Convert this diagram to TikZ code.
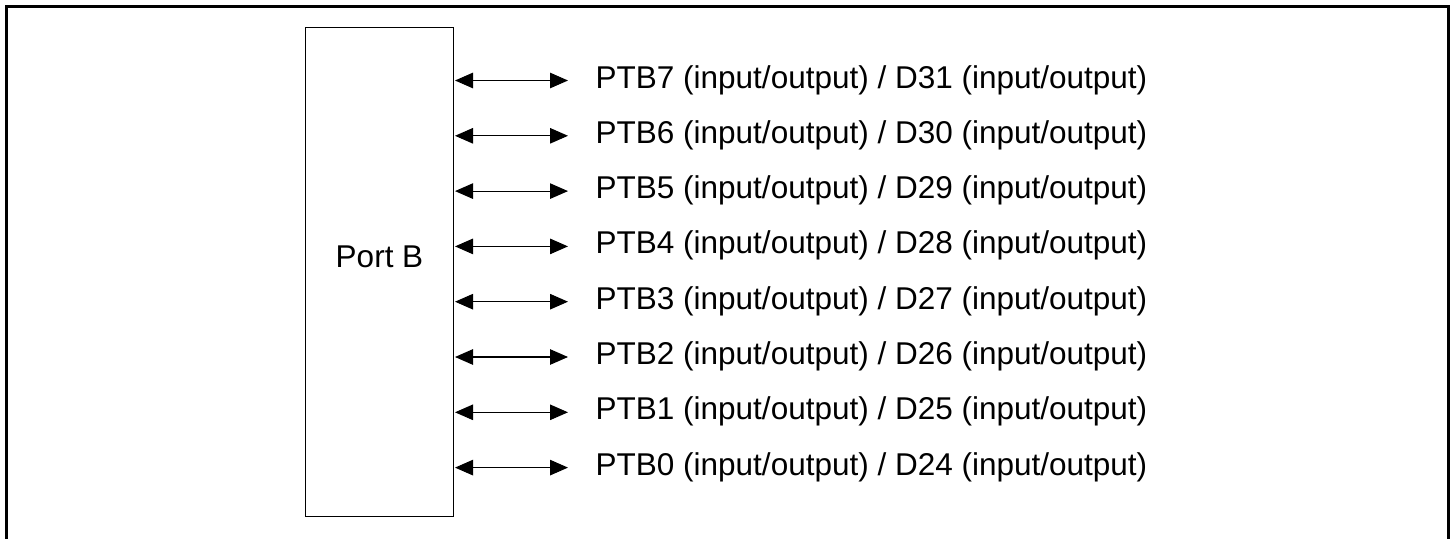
\documentclass[tikz,border=0pt]{standalone}
\usepackage{fontspec}
\setmainfont{Liberation Sans}
\usetikzlibrary{arrows.meta}
\begin{document}
\begin{tikzpicture}[x=1pt,y=-1pt,
  frame/.style={line width=3pt},
  portbox/.style={draw,line width=1.1pt,minimum width=147.6pt,minimum height=489.2pt,inner sep=0pt},
  lbl/.style={inner sep=0pt,font=\fontsize{31.5}{37}\selectfont},
  bidir/.style={line width=1.1pt,{Triangle[length=18pt,width=15.5pt]}-{Triangle[length=18pt,width=15.5pt]}}]
\useasboundingbox (0,0) rectangle (1455,538);
\draw[frame] (6.5,540) -- (6.5,6.5) -- (1448.5,6.5) -- (1448.5,540);
\node[portbox] (portB) at (379.5,272.1) {};
\node[lbl,anchor=base] (portBlbl) at (379.5,267.5) {Port B};
\foreach \i/\d [count=\k from 0] in {7/31,6/30,5/29,4/28,3/27,2/26,1/25,0/24}{
  \coordinate (l\i) at (455,{80.5+55.3*\k});
  \coordinate (r\i) at (568,{80.5+55.3*\k});
  \node[lbl,anchor=base west] (t\i) at (595.5,{80.5+55.3*\k+7.5}) {PTB\i{} (input/output) / D\d{} (input/output)};
  \draw[bidir] (l\i) -- (r\i);
}
\end{tikzpicture}
\end{document}
